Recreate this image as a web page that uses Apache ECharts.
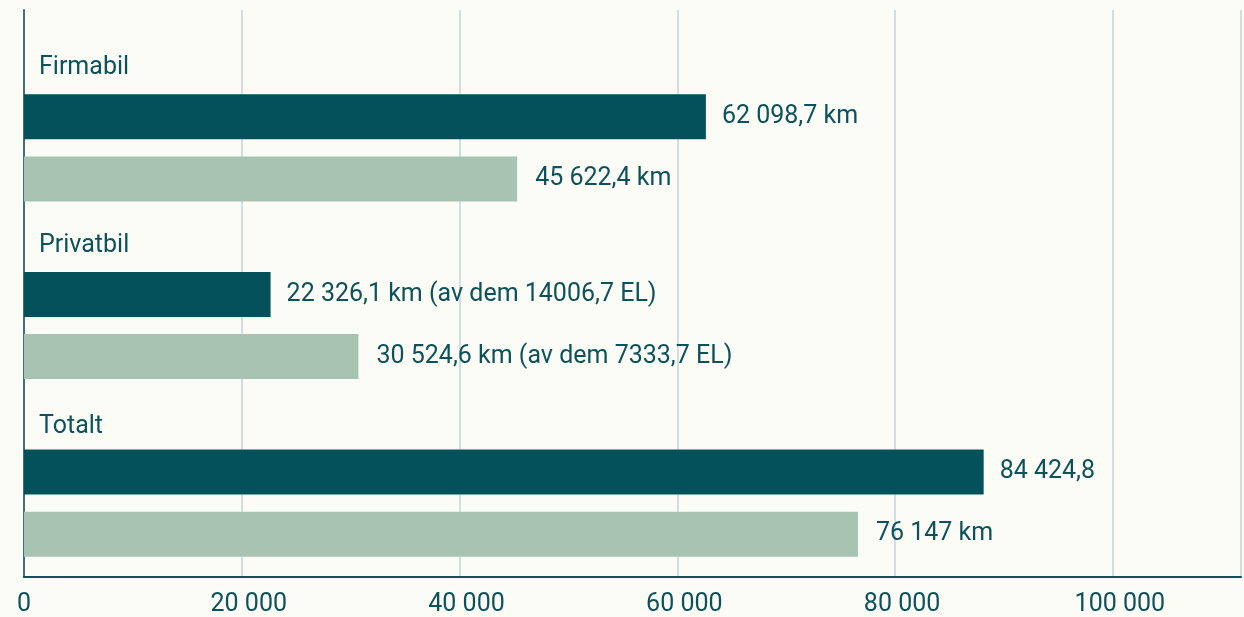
<!DOCTYPE html>
<html>
<head>
<meta charset="utf-8">
<script src="https://cdn.jsdelivr.net/npm/echarts/dist/echarts.min.js"></script>
<style>
  html, body { margin: 0; padding: 0; background: #fcfcf7; }
  #chart { width: 1244px; height: 617px; }
</style>
</head>
<body>
<div id="chart"></div>
<script>
// categories (top to bottom)
const categories = ["Firmabil", "Privatbil", "Totalt"];
// bar lengths
const darkValues = [62470, 22590, 87920];
const lightValues = [45180, 30640, 76400];
// texts printed next to the bars
const darkLabels = ["62 098,7 km", "22 326,1 km (av dem 14006,7 EL)", "84 424,8"];
const lightLabels = ["45 622,4 km", "30 524,6 km (av dem 7333,7 EL)", "76 147 km"];
// x axis
const xMin = 0;
const xMax = 111770;
const xInterval = 20000;

const teal = "#05515b";
const sage = "#a7c4b2";
const textColor = "#0d525b";
const font = "Roboto";

function fmt(v) {
  return String(v).replace(/\B(?=(\d{3})+(?!\d))/g, " ");
}

const chart = echarts.init(document.getElementById("chart"));
const option = {
  backgroundColor: "#fcfcf7",
  animation: false,
  grid: [
    // frame: axis lines, gridlines and tick labels
    { left: 24, right: -2, top: 10, bottom: 40 },
    // bars
    { left: 24, right: -2, top: 59, bottom: 25 }
  ],
  xAxis: [
    {
      gridIndex: 0,
      type: "value",
      min: xMin,
      max: xMax,
      interval: xInterval,
      axisLine: { show: true, lineStyle: { color: "#10525a", width: 2 } },
      axisTick: { show: false },
      splitLine: { show: true, lineStyle: { color: "#d2dfe0", width: 2 } },
      axisLabel: {
        color: textColor,
        fontFamily: font,
        fontSize: 25,
        margin: 15,
        formatter: function (v) {
          if (v % xInterval !== 0) return "";
          return v === 0 ? "0" : "{s|}" + fmt(v);
        },
        rich: {
          s: { width: 14 }
        }
      }
    },
    {
      gridIndex: 1,
      type: "value",
      min: xMin,
      max: xMax,
      show: false
    }
  ],
  yAxis: [
    {
      gridIndex: 0,
      type: "value",
      axisLine: { show: true, lineStyle: { color: "#3f7178", width: 2 } },
      axisTick: { show: false },
      axisLabel: { show: false },
      splitLine: { show: false }
    },
    {
      gridIndex: 1,
      type: "category",
      inverse: true,
      data: categories,
      axisLine: { show: false },
      axisTick: { show: false },
      splitLine: { show: false },
      axisLabel: {
        inside: true,
        interval: 0,
        margin: 15,
        align: "left",
        verticalAlign: "middle",
        color: textColor,
        fontFamily: font,
        fontSize: 25,
        // label sits above its pair of bars
        formatter: function (v, i) {
          return "{t|" + v + "}\n{s" + i + "|}";
        },
        rich: {
          t: { color: textColor, fontFamily: font, fontSize: 25, lineHeight: 30 },
          s0: { height: 161, lineHeight: 161 },
          s1: { height: 159, lineHeight: 159 },
          s2: { height: 152, lineHeight: 152 }
        }
      },
      z: 5
    }
  ],
  series: [
    {
      type: "bar",
      xAxisIndex: 1,
      yAxisIndex: 1,
      data: darkValues,
      barWidth: 45,
      barGap: "38%",
      itemStyle: { color: teal },
      label: {
        show: true,
        position: "right",
        distance: 16,
        color: textColor,
        fontFamily: font,
        fontSize: 25,
        formatter: function (p) { return darkLabels[p.dataIndex]; }
      }
    },
    {
      type: "bar",
      xAxisIndex: 1,
      yAxisIndex: 1,
      data: lightValues,
      barWidth: 45,
      barGap: "38%",
      itemStyle: { color: sage },
      label: {
        show: true,
        position: "right",
        distance: 18,
        color: textColor,
        fontFamily: font,
        fontSize: 25,
        formatter: function (p) { return lightLabels[p.dataIndex]; }
      }
    }
  ]
};
chart.setOption(option);
</script>
</body>
</html>
